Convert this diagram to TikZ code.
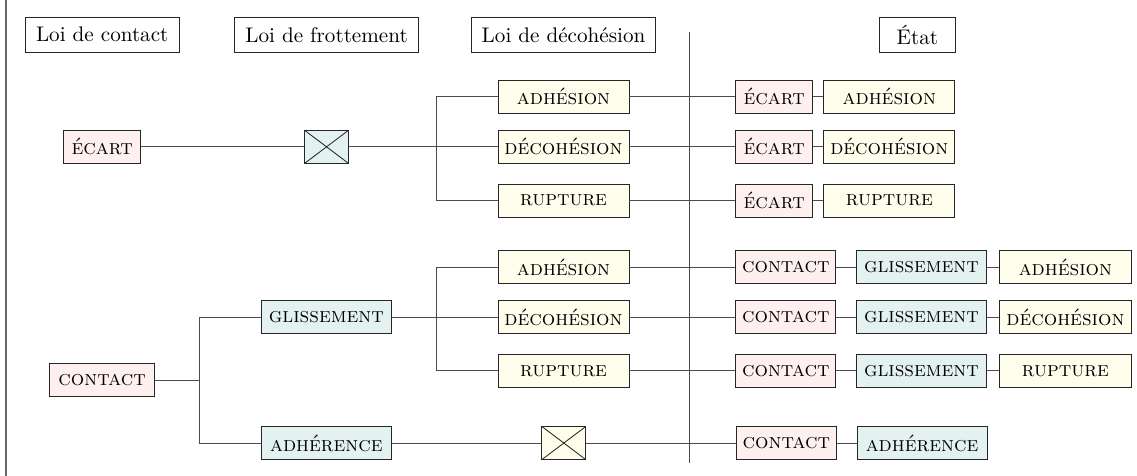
\documentclass[tikz,border=0pt]{standalone}
\usepackage{tikz}
\usetikzlibrary{positioning, calc}

\begin{document}
\begin{tikzpicture}[
    loi/.style     = {draw=black!85, rectangle, minimum height=0.59cm, inner xsep=5pt},
    cbox/.style    = {draw=black!85, rectangle, minimum height=0.55cm, inner xsep=3pt, font=\scshape},
    contact/.style = {cbox, fill=red!6},
    frott/.style   = {cbox, fill=teal!11, minimum width=2.16cm},
    decoh/.style   = {cbox, fill=yellow!7, minimum width=2.18cm},
    croix/.style   = {draw=black!85, rectangle, minimum width=0.73cm, minimum height=0.55cm,
                      path picture={\draw[black!85] (path picture bounding box.north west) -- (path picture bounding box.south east)
                                    (path picture bounding box.south west) -- (path picture bounding box.north east);}},
    line/.style    = {draw=black!70},
    node distance  = 0.17cm
]
\useasboundingbox (0,0) rectangle (18.91,-7.916);

% Entetes des colonnes
\node[loi] (hcontact) at (1.70,-0.578) {Loi de contact};
\node[loi, right=0.915cm of hcontact] (hfrott) {Loi de frottement};
\node[loi, right=0.865cm of hfrott]   (hdecoh) {Loi de décohésion};
\node[loi, minimum width=1.25cm, right=3.71cm of hdecoh] (hetat) {État};

% Separateurs
\coordinate (septop) at (11.46,-0.53);
\coordinate (sepbot) at (11.46,-7.70);
\coordinate (bordtop) at (0.10,0);
\coordinate (bordbot) at (0.10,-7.916);
\draw[black!60, semithick] (bordtop) -- (bordbot);
\draw[black!70] (septop) -- (sepbot);

% Branche ecart
\node[contact, minimum width=1.28cm, below=1.28cm of hcontact] (ecart) {écart};
\node[croix, fill=teal!11, below=1.28cm of hfrott] (croixA) {};
\node[decoh, below=1.28cm of hdecoh] (decoA) {décohésion};
\node[decoh, above=0.27cm of decoA]  (adhA)  {adhésion};
\node[decoh, below=0.33cm of decoA]  (rupA)  {rupture};
\coordinate[left=1.01cm of decoA.west] (brA);

% Etats ecart
\node[contact, minimum width=1.28cm, right=1.76cm of adhA]  (ecart1) {écart};
\node[contact, minimum width=1.28cm, right=1.76cm of decoA] (ecart2) {écart};
\node[contact, minimum width=1.28cm, right=1.76cm of rupA]  (ecart3) {écart};
\node[decoh, right=of ecart1] (adhR1) {adhésion};
\node[decoh, right=of ecart2] (decoR2) {décohésion};
\node[decoh, right=of ecart3] (rupR3) {rupture};

% Branche contact
\node[decoh, below=0.54cm of rupA]  (adhB)  {adhésion};
\node[decoh, below=0.27cm of adhB]  (decoB) {décohésion};
\node[decoh, below=0.33cm of decoB] (rupB)  {rupture};
\coordinate[left=1.01cm of decoB.west] (brB);
\node[frott, left=1.76cm of decoB]  (glis)  {glissement};
\node[frott, below=1.53cm of glis]  (adher) {adhérence};
\node[croix, fill=yellow!7, right=2.49cm of adher] (croixB) {};
\coordinate (mid) at ($(glis.west)!0.5!(adher.west)$);
\coordinate[left=1.02cm of mid] (brC);
\node[contact, minimum width=1.75cm, left=1.76cm of mid] (contactL) {contact};

% Etats contact
\node[contact, right=1.76cm of adhB]   (contact1) {contact};
\node[contact, right=1.76cm of decoB]  (contact2) {contact};
\node[contact, right=1.76cm of rupB]   (contact3) {contact};
\node[contact, right=2.49cm of croixB] (contact4) {contact};
\node[frott, right=0.33cm of contact1] (glisR1) {glissement};
\node[frott, right=0.33cm of contact2] (glisR2) {glissement};
\node[frott, right=0.33cm of contact3] (glisR3) {glissement};
\node[frott, right=0.33cm of contact4] (adherR) {adhérence};
\node[decoh, right=0.21cm of glisR1] (adhR4)  {adhésion};
\node[decoh, right=0.21cm of glisR2] (decoR5) {décohésion};
\node[decoh, right=0.21cm of glisR3] (rupR6)  {rupture};

% Liaisons ecart
\draw[line] (ecart)  -- (croixA);
\draw[line] (croixA) -- (decoA);
\draw[line] (adhA.west) -| (brA) |- (rupA.west);
\draw[line] (adhA)  -- (ecart1);
\draw[line] (decoA) -- (ecart2);
\draw[line] (rupA)  -- (ecart3);
\draw[line] (ecart1) -- (adhR1);
\draw[line] (ecart2) -- (decoR2);
\draw[line] (ecart3) -- (rupR3);

% Liaisons contact
\draw[line] (contactL) -- (brC);
\draw[line] (glis.west) -| (brC) |- (adher.west);
\draw[line] (glis) -- (decoB);
\draw[line] (adhB.west) -| (brB) |- (rupB.west);
\draw[line] (adher)  -- (croixB);
\draw[line] (croixB) -- (contact4);
\draw[line] (adhB)  -- (contact1);
\draw[line] (decoB) -- (contact2);
\draw[line] (rupB)  -- (contact3);
\draw[line] (contact1) -- (glisR1);
\draw[line] (contact2) -- (glisR2);
\draw[line] (contact3) -- (glisR3);
\draw[line] (contact4) -- (adherR);
\draw[line] (glisR1) -- (adhR4);
\draw[line] (glisR2) -- (decoR5);
\draw[line] (glisR3) -- (rupR6);

\end{tikzpicture}
\end{document}
